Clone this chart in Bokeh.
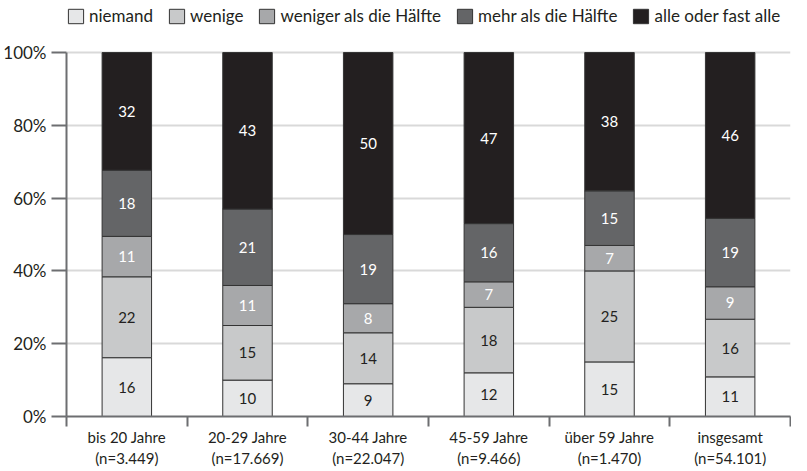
from bokeh.plotting import figure
from bokeh.models import ColumnDataSource, FixedTicker, Legend, LegendItem, Range1d
from bokeh.embed import file_html
from bokeh.resources import INLINE
from bokeh.core.properties import value

categories = ["bis 20 Jahre\n(n=3.449)", "20-29 Jahre\n(n=17.669)", "30-44 Jahre\n(n=22.047)",
              "45-59 Jahre\n(n=9.466)", "über 59 Jahre\n(n=1.470)", "insgesamt\n(n=54.101)"]
series = ["niemand", "wenige", "weniger als die Hälfte", "mehr als die Hälfte", "alle oder fast alle"]
niemand = [16, 10, 9, 12, 15, 11]
wenige = [22, 15, 14, 18, 25, 16]
weniger = [11, 11, 8, 7, 7, 9]
mehr = [18, 21, 19, 16, 15, 19]
alle = [32, 43, 50, 47, 38, 46]
y_ticks = [0, 20, 40, 60, 80, 100]
y_tick_labels = ["0%", "20%", "40%", "60%", "80%", "100%"]

colors = ["#e6e7e8", "#c8c9ca", "#a7a8aa", "#646567", "#231f20"]
text_colors = ["#231f20", "#231f20", "#ffffff", "#ffffff", "#ffffff"]
FONT = "Lato"

data = [niemand, wenige, weniger, mehr, alle]
n = len(categories)
xs = [i + 0.5 for i in range(n)]
totals = [sum(d[i] for d in data) for i in range(n)]

# frame extends above 100% to leave room for the legend
p = figure(width=791, height=470, output_backend="svg", toolbar_location=None,
           x_range=Range1d(0, n), y_range=Range1d(0, 114.3),
           min_border_left=59, min_border_right=1, min_border_top=0, min_border_bottom=46)

cum = [0.0] * n
items = []
for k, (name, vals) in enumerate(zip(series, data)):
    bottoms = cum[:]
    tops = [cum[i] + vals[i] / totals[i] * 100 for i in range(n)]
    mids = [(b + t) / 2 for b, t in zip(bottoms, tops)]
    src = ColumnDataSource(dict(x=xs, bottom=bottoms, top=tops, mid=mids,
                                label=[str(v) for v in vals]))
    r = p.vbar(x="x", bottom="bottom", top="top", width=0.41, source=src,
               fill_color=colors[k], line_color="#333333", line_width=1)
    p.text(x="x", y="mid", text="label", source=src, text_align="center",
           text_baseline="middle", text_color=text_colors[k], text_font=value(FONT),
           text_font_size="15px")
    items.append(LegendItem(label=name, renderers=[r]))
    cum = tops

legend = Legend(items=items, orientation="horizontal", location=(0, 390),
                glyph_width=19, glyph_height=18, label_text_font=FONT,
                label_text_font_size="17px", label_text_color="#231f20",
                spacing=14, label_standoff=4, padding=0, margin=0,
                border_line_color=None, background_fill_alpha=0, label_height=18)
p.add_layout(legend)

# y axis
p.yaxis.ticker = FixedTicker(ticks=y_ticks, minor_ticks=[])
p.yaxis.bounds = (0, 100)
p.yaxis.major_label_overrides = {t: l for t, l in zip(y_ticks, y_tick_labels)}
p.yaxis.major_tick_out = 15
p.yaxis.major_tick_in = 0
p.yaxis.major_tick_line_color = "#6d6e71"
p.yaxis.major_tick_line_width = 2
p.yaxis.axis_line_color = "#6d6e71"
p.yaxis.axis_line_width = 2
p.yaxis.major_label_text_font = FONT
p.yaxis.major_label_text_font_size = "17px"
p.yaxis.major_label_text_color = "#231f20"
p.yaxis.major_label_standoff = 5

# x axis
p.xaxis.ticker = FixedTicker(ticks=xs, minor_ticks=list(range(n + 1)))
p.xaxis.major_label_overrides = {x: c for x, c in zip(xs, categories)}
p.xaxis.major_tick_out = 0
p.xaxis.major_tick_in = 0
p.xaxis.minor_tick_out = 10
p.xaxis.minor_tick_in = 0
p.xaxis.minor_tick_line_color = "#6d6e71"
p.xaxis.minor_tick_line_width = 2
p.xaxis.axis_line_color = "#6d6e71"
p.xaxis.axis_line_width = 2
p.xaxis.major_label_text_font = FONT
p.xaxis.major_label_text_font_size = "15px"
p.xaxis.major_label_text_color = "#231f20"
p.xaxis.major_label_standoff = 1

# horizontal grid and a right border line, both limited to 0..100 %
p.ygrid.ticker = FixedTicker(ticks=y_ticks, minor_ticks=[])
p.ygrid.grid_line_color = "#d9d9d9"
p.ygrid.grid_line_width = 2
p.xgrid.ticker = FixedTicker(ticks=[n], minor_ticks=[])
p.xgrid.bounds = (0, 100)
p.xgrid.grid_line_color = "#d9d9d9"
p.xgrid.grid_line_width = 3
p.outline_line_color = None

open("out.html", "w").write(file_html(p, INLINE))
